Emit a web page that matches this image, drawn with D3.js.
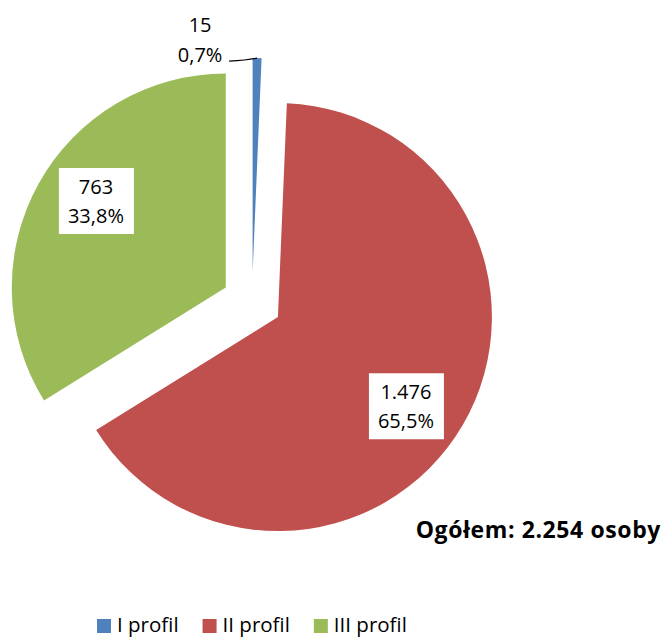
<!DOCTYPE html>
<html>
<head>
<meta charset="utf-8">
<script src="https://cdn.jsdelivr.net/npm/d3@7"></script>
<style>
  body { margin: 0; background: #fff; }
  text { font-family: "Open Sans", "Liberation Sans", sans-serif; fill: #000; }
</style>
</head>
<body>
<div id="chart"></div>
<script>
// data
var categories = ["I profil", "II profil", "III profil"];
var counts = [15, 1476, 763];
var countLabels = ["15", "1.476", "763"];
var percentLabels = ["0,7%", "65,5%", "33,8%"];
var colors = ["#4F81BD", "#C0504D", "#9BBB59"];
var totalLabel = "Ogółem: 2.254 osoby";

var width = 664, height = 639;
var cx = 252, cy = 302, radius = 214, explode = 30;

var svg = d3.select("#chart").append("svg")
    .attr("width", width)
    .attr("height", height);

var pie = d3.pie().sort(null).value(function(d) { return d; });
var arcs = pie(counts);

var arc = d3.arc().innerRadius(0).outerRadius(radius);

function offset(d, r) {
  var a = (d.startAngle + d.endAngle) / 2;
  return [Math.sin(a) * r, -Math.cos(a) * r];
}

var g = svg.append("g").attr("transform", "translate(" + cx + "," + cy + ")");

var slices = g.selectAll("g.slice")
  .data(arcs)
  .enter().append("g")
    .attr("class", "slice")
    .attr("transform", function(d) {
      var o = offset(d, explode);
      return "translate(" + o[0] + "," + o[1] + ")";
    });

slices.append("path")
  .attr("d", arc)
  .attr("fill", function(d, i) { return colors[i]; });

// labels inside the two big slices
var labelR = 156, labelShift = 0.08;
slices.filter(function(d, i) { return i > 0; }).each(function(d) {
  var i = d.index;
  var a = (d.startAngle + d.endAngle) / 2 + labelShift;
  var x = Math.sin(a) * labelR, y = -Math.cos(a) * labelR;
  var sel = d3.select(this);
  sel.append("rect")
    .attr("x", x - 37).attr("y", y - 33)
    .attr("width", 75).attr("height", 66)
    .attr("fill", "#fff");
  sel.append("text")
    .attr("x", x).attr("y", y - 7)
    .attr("text-anchor", "middle")
    .style("font-size", "20px")
    .text(countLabels[i]);
  sel.append("text")
    .attr("x", x).attr("y", y + 22)
    .attr("text-anchor", "middle")
    .style("font-size", "20px")
    .text(percentLabels[i]);
});

// small slice label outside, with leader line
slices.filter(function(d, i) { return i === 0; }).each(function(d) {
  var p = offset(d, radius);
  var sel = d3.select(this);
  var tx = p[0] - 57;
  sel.append("path")
    .attr("d", "M" + (p[0] - 28) + "," + (p[1] + 3) + " Q" + (p[0] - 10) + "," + (p[1] + 2) + " " + p[0] + "," + p[1])
    .attr("fill", "none")
    .attr("stroke", "#000")
    .attr("stroke-width", 1.2);
  sel.append("text")
    .attr("x", tx).attr("y", p[1] - 26)
    .attr("text-anchor", "middle")
    .style("font-size", "20px")
    .text(countLabels[0]);
  sel.append("text")
    .attr("x", tx).attr("y", p[1] + 4)
    .attr("text-anchor", "middle")
    .style("font-size", "20px")
    .text(percentLabels[0]);
});

// total
svg.append("text")
  .attr("x", 661).attr("y", 538)
  .attr("text-anchor", "end")
  .style("font-size", "23px")
  .style("font-weight", "bold")
  .style("letter-spacing", "0.6px")
  .text(totalLabel);

// legend
var legend = svg.append("g").attr("transform", "translate(97,619)");
var lx = 0;
categories.forEach(function(c, i) {
  var item = legend.append("g").attr("transform", "translate(" + lx + ",0)");
  item.append("rect")
    .attr("width", 14).attr("height", 14)
    .attr("fill", colors[i]);
  var t = item.append("text")
    .attr("x", 20).attr("y", 13)
    .style("font-size", "20.5px")
    .text(c);
  lx += 20 + t.node().getComputedTextLength() + 24;
});
</script>
</body>
</html>
